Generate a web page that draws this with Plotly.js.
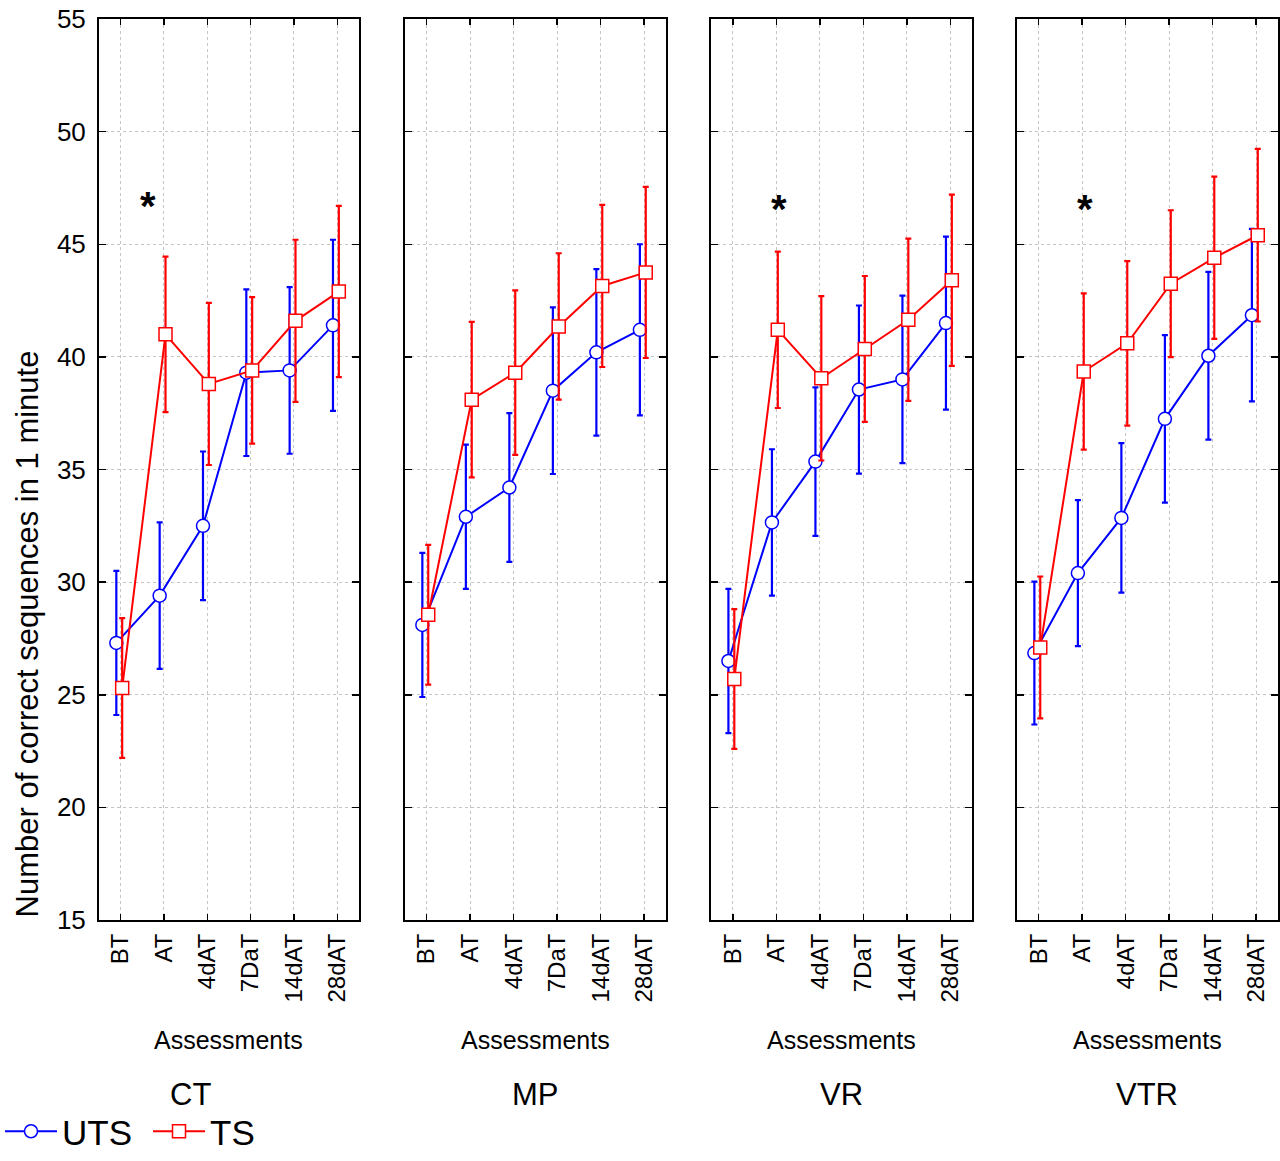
<!DOCTYPE html>
<html>
<head>
<meta charset="utf-8">
<script src="https://cdn.plot.ly/plotly-3.0.1.min.js"></script>
<style>html,body{margin:0;padding:0;background:#fff}#chart{width:1280px;height:1161px}</style>
</head>
<body>
<div id="chart"></div>
<script>
// ---- data ----
var categories = ["BT", "AT", "4dAT", "7DaT", "14dAT", "28dAT"];
var panels = ["CT", "MP", "VR", "VTR"];
var seriesNames = ["UTS", "TS"];

var ctUTS    = [27.3, 29.4, 32.5, 39.3, 39.4, 41.4];
var ctUTSerr = [3.2, 3.25, 3.3, 3.7, 3.7, 3.8];
var ctTS     = [25.3, 41.0, 38.8, 39.4, 41.6, 42.9];
var ctTSerr  = [3.1, 3.45, 3.6, 3.25, 3.6, 3.8];

var mpUTS    = [28.1, 32.9, 34.2, 38.5, 40.2, 41.2];
var mpUTSerr = [3.2, 3.2, 3.3, 3.7, 3.7, 3.8];
var mpTS     = [28.55, 38.1, 39.3, 41.35, 43.15, 43.75];
var mpTSerr  = [3.1, 3.45, 3.65, 3.25, 3.6, 3.8];

var vrUTS    = [26.5, 32.65, 35.35, 38.55, 39.0, 41.5];
var vrUTSerr = [3.2, 3.25, 3.3, 3.73, 3.72, 3.84];
var vrTS     = [25.7, 41.2, 39.05, 40.35, 41.65, 43.4];
var vrTSerr  = [3.1, 3.47, 3.65, 3.24, 3.6, 3.8];

var vtrUTS    = [26.85, 30.4, 32.85, 37.25, 40.05, 41.85];
var vtrUTSerr = [3.17, 3.24, 3.32, 3.72, 3.72, 3.83];
var vtrTS     = [27.1, 39.35, 40.6, 43.25, 44.4, 45.4];
var vtrTSerr  = [3.15, 3.47, 3.65, 3.26, 3.6, 3.83];

var yTicks = [15, 20, 25, 30, 35, 40, 45, 50, 55];
var starPanels = ["CT", "VR", "VTR"];
var starX = [0.63, 1.06, 1.06];
var starY = [46.97, 46.8, 46.8];

// ---- build ----
var panelData = [
  [ctUTS, ctUTSerr, ctTS, ctTSerr],
  [mpUTS, mpUTSerr, mpTS, mpTSerr],
  [vrUTS, vrUTSerr, vrTS, vrTSerr],
  [vtrUTS, vtrUTSerr, vtrTS, vtrTSerr]
];
var FONT = '"Liberation Sans", Arial, Helvetica, sans-serif';
var BLUE = '#0000ff', RED = '#ff0000';
var domains = [[0, 0.2205], [0.2595, 0.4809], [0.5191, 0.7405], [0.7786, 1.0]];
var idx = categories.map(function (c, i) { return i; });

var traces = [];
panels.forEach(function (p, k) {
  var sfx = k === 0 ? '' : String(k + 1);
  var d = panelData[k];
  traces.push({
    type: 'scatter', mode: 'lines+markers', name: seriesNames[0],
    legendgroup: 'uts', showlegend: k === 0,
    x: idx.map(function (i) { return i - 0.1; }), y: d[0],
    xaxis: 'x' + sfx, yaxis: 'y' + sfx,
    line: {color: BLUE, width: 2},
    marker: {symbol: 'circle', size: 13, color: '#ffffff', line: {color: BLUE, width: 1.5}},
    error_y: {type: 'data', array: d[1], visible: true, color: BLUE, thickness: 2.2, width: 3}
  });
  traces.push({
    type: 'scatter', mode: 'lines+markers', name: seriesNames[1],
    legendgroup: 'ts', showlegend: k === 0,
    x: idx.map(function (i) { return i + 0.035; }), y: d[2],
    xaxis: 'x' + sfx, yaxis: 'y' + sfx,
    line: {color: RED, width: 2},
    marker: {symbol: 'square', size: 13, color: '#ffffff', line: {color: RED, width: 1.5}},
    error_y: {type: 'data', array: d[3], visible: true, color: RED, thickness: 2.2, width: 3}
  });
});

var layout = {
  width: 1280, height: 1161,
  margin: {l: 99, r: 2, t: 19, b: 241},
  paper_bgcolor: '#ffffff', plot_bgcolor: '#ffffff',
  font: {family: FONT, color: '#000000', size: 24},
  showlegend: true,
  legend: {
    orientation: 'h', xref: 'container', yref: 'container',
    x: 0.0, xanchor: 'left', y: -0.006, yanchor: 'bottom',
    font: {family: FONT, size: 35, color: '#000'}, itemwidth: 52,
    entrywidth: 81, entrywidthmode: 'pixels',
    bgcolor: 'rgba(0,0,0,0)', tracegroupgap: 0, itemclick: false
  },
  annotations: []
};

panels.forEach(function (p, k) {
  var sfx = k === 0 ? '' : String(k + 1);
  layout['xaxis' + sfx] = {
    domain: domains[k], anchor: 'y' + sfx,
    range: [-0.5, 5.5], tickmode: 'array', tickvals: idx, ticktext: categories,
    tickangle: -90, ticks: 'inside', ticklen: 6, tickwidth: 1.5, tickcolor: '#000',
    ticklabelstandoff: 2,
    showline: true, linecolor: '#000', linewidth: 2, mirror: 'ticks',
    showgrid: true, gridcolor: '#c4c4c4', gridwidth: 1, griddash: 'dot',
    zeroline: false, fixedrange: true, automargin: false,
    tickfont: {family: FONT, size: 24, color: '#000'}
  };
  layout['yaxis' + sfx] = {
    domain: [0, 1], anchor: 'x' + sfx,
    range: [15, 55], tickmode: 'array', tickvals: yTicks,
    ticks: 'inside', ticklen: 7, tickwidth: 1.5, tickcolor: '#000',
    showticklabels: k === 0, ticklabelstandoff: 6,
    showline: true, linecolor: '#000', linewidth: 2, mirror: 'ticks',
    showgrid: true, gridcolor: '#c4c4c4', gridwidth: 1, griddash: 'dot',
    zeroline: false, fixedrange: true, automargin: false,
    tickfont: {family: FONT, size: 26, color: '#000'}
  };
  var cx = (domains[k][0] + domains[k][1]) / 2;
  layout.annotations.push({
    xref: 'paper', yref: 'paper', x: cx, y: -0.1332, xanchor: 'center', yanchor: 'middle',
    text: 'Assessments', showarrow: false, font: {family: FONT, size: 25, color: '#000'}
  });
  layout.annotations.push({
    xref: 'paper', yref: 'paper', x: cx + (k === 0 ? -0.033 : 0.0), y: -0.1942, xanchor: 'center', yanchor: 'middle',
    text: p, showarrow: false, font: {family: FONT, size: 31, color: '#000'}
  });
});

starPanels.forEach(function (p, j) {
  var k = panels.indexOf(p);
  var sfx = k === 0 ? '' : String(k + 1);
  layout.annotations.push({
    xref: 'x' + sfx, yref: 'y' + sfx, x: starX[j], y: starY[j] - 0.25,
    xanchor: 'center', yanchor: 'middle', text: '<b>*</b>', showarrow: false,
    font: {family: FONT, size: 40, color: '#000'}
  });
});

layout.annotations.push({
  xref: 'paper', yref: 'paper', x: -0.061, y: 0.317, xanchor: 'center', yanchor: 'middle',
  textangle: -90, text: 'Number of correct sequences in 1 minute', showarrow: false,
  font: {family: FONT, size: 31, color: '#000'}
});

Plotly.newPlot('chart', traces, layout, {staticPlot: true, displayModeBar: false});
</script>
</body>
</html>
